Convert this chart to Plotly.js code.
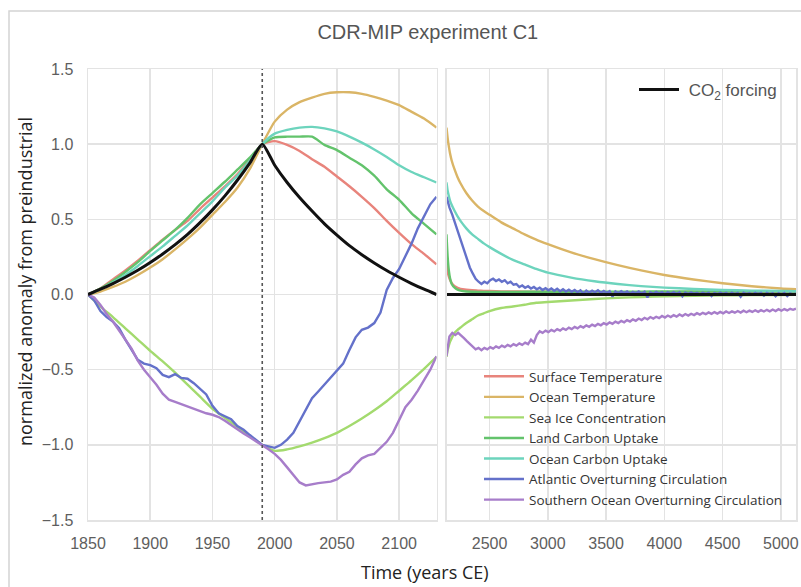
<!DOCTYPE html>
<html>
<head>
<meta charset="utf-8">
<script src="https://cdn.plot.ly/plotly-3.0.1.min.js"></script>
<style>html,body{margin:0;padding:0;background:#fff;}#chart{width:801px;height:587px;}</style>
</head>
<body>
<div id="chart"></div>
<script>
// ---------- DATA ----------
const seriesNames = ["Surface Temperature","Ocean Temperature","Sea Ice Concentration","Land Carbon Uptake","Ocean Carbon Uptake","Atlantic Overturning Circulation","Southern Ocean Overturning Circulation"];
const forcingName = "\u00a0CO<sub>2</sub> forcing";

// left panel, 10-year steps
const yearsL10 = [1850,1860,1870,1880,1890,1900,1910,1920,1930,1940,1950,1960,1970,1980,1990,2000,2010,2020,2030,2040,2050,2060,2070,2080,2090,2100,2110,2120,2130];
const co2L     = [0,0.035,0.073,0.115,0.161,0.213,0.27,0.332,0.40,0.478,0.563,0.656,0.76,0.874,1.0,0.86,0.745,0.645,0.555,0.47,0.395,0.325,0.265,0.21,0.16,0.115,0.073,0.035,0.0];
const surfTL   = [0,0.04,0.10,0.16,0.225,0.295,0.365,0.43,0.49,0.57,0.645,0.72,0.80,0.90,1.0,1.02,0.995,0.955,0.90,0.85,0.785,0.72,0.65,0.575,0.49,0.41,0.335,0.27,0.20];
const oceanTL  = [0,0.02,0.05,0.085,0.13,0.18,0.235,0.30,0.37,0.445,0.53,0.615,0.71,0.835,1.0,1.15,1.23,1.28,1.31,1.335,1.345,1.345,1.335,1.315,1.29,1.26,1.215,1.17,1.11];
const seaIceL  = [0,-0.08,-0.15,-0.225,-0.30,-0.375,-0.445,-0.52,-0.60,-0.68,-0.76,-0.82,-0.88,-0.94,-1.0,-1.04,-1.03,-1.01,-0.985,-0.955,-0.92,-0.875,-0.825,-0.77,-0.71,-0.64,-0.57,-0.495,-0.415];
const landCL   = [0,0.04,0.09,0.15,0.215,0.29,0.36,0.43,0.51,0.60,0.675,0.75,0.83,0.91,1.0,1.045,1.05,1.05,1.05,0.995,0.96,0.91,0.86,0.79,0.70,0.63,0.54,0.47,0.40];
const oceanCL  = [0,0.035,0.08,0.13,0.19,0.255,0.32,0.39,0.46,0.54,0.62,0.71,0.79,0.89,1.0,1.07,1.095,1.11,1.115,1.105,1.085,1.05,1.01,0.965,0.915,0.86,0.815,0.78,0.745];

// left panel, 5-year steps (noisy circulation series)
const yearsL5 = [1850,1855,1860,1865,1870,1875,1880,1885,1890,1895,1900,1905,1910,1915,1920,1925,1930,1935,1940,1945,1950,1955,1960,1965,1970,1975,1980,1985,1990,1995,2000,2005,2010,2015,2020,2025,2030,2035,2040,2045,2050,2055,2060,2065,2070,2075,2080,2085,2090,2095,2100,2105,2110,2115,2120,2125,2130];
const amocL = [0,-0.04,-0.11,-0.15,-0.18,-0.225,-0.30,-0.37,-0.435,-0.46,-0.47,-0.49,-0.535,-0.55,-0.53,-0.555,-0.56,-0.59,-0.625,-0.665,-0.74,-0.79,-0.81,-0.83,-0.875,-0.90,-0.935,-0.97,-1.0,-1.01,-1.02,-1.0,-0.965,-0.92,-0.84,-0.76,-0.69,-0.645,-0.60,-0.55,-0.505,-0.46,-0.37,-0.285,-0.235,-0.22,-0.19,-0.12,0.03,0.11,0.17,0.25,0.34,0.44,0.52,0.60,0.65];
const somocL = [0,-0.02,-0.07,-0.13,-0.18,-0.24,-0.30,-0.36,-0.44,-0.50,-0.55,-0.60,-0.66,-0.70,-0.715,-0.73,-0.745,-0.765,-0.78,-0.79,-0.80,-0.815,-0.84,-0.87,-0.90,-0.925,-0.95,-0.975,-1.0,-1.03,-1.06,-1.10,-1.15,-1.20,-1.25,-1.27,-1.26,-1.255,-1.25,-1.245,-1.23,-1.20,-1.18,-1.13,-1.09,-1.07,-1.06,-1.02,-0.98,-0.92,-0.84,-0.75,-0.70,-0.64,-0.57,-0.50,-0.41];

// right panel, smooth series
const yearsR = [2130,2140,2150,2160,2175,2200,2225,2250,2300,2350,2400,2450,2500,2600,2700,2800,2900,3000,3200,3400,3600,3800,4000,4250,4500,4750,5000,5130];
const co2R    = [0,0,0,0,0,0,0,0,0,0,0,0,0,0,0,0,0,0,0,0,0,0,0,0,0,0,0,0];
const surfTR  = [0.20,0.15,0.12,0.098,0.075,0.055,0.045,0.038,0.032,0.028,0.026,0.024,0.023,0.021,0.02,0.019,0.018,0.018,0.017,0.016,0.015,0.015,0.014,0.014,0.013,0.013,0.013,0.013];
const oceanTR = [1.11,1.04,0.985,0.94,0.89,0.83,0.78,0.74,0.675,0.625,0.585,0.555,0.53,0.48,0.44,0.40,0.365,0.335,0.28,0.235,0.195,0.16,0.13,0.10,0.075,0.055,0.04,0.035];
const seaIceR = [-0.415,-0.37,-0.34,-0.315,-0.29,-0.255,-0.235,-0.22,-0.19,-0.165,-0.14,-0.125,-0.11,-0.09,-0.08,-0.068,-0.055,-0.05,-0.04,-0.03,-0.022,-0.017,-0.012,-0.009,-0.006,-0.004,-0.003,-0.002];
const landCR  = [0.40,0.25,0.16,0.11,0.07,0.045,0.032,0.026,0.02,0.018,0.017,0.017,0.017,0.017,0.017,0.018,0.018,0.018,0.018,0.019,0.019,0.019,0.02,0.02,0.02,0.02,0.02,0.02];
const oceanCR = [0.745,0.69,0.655,0.625,0.595,0.555,0.52,0.49,0.44,0.40,0.37,0.34,0.315,0.27,0.23,0.20,0.17,0.145,0.112,0.088,0.07,0.056,0.046,0.037,0.03,0.026,0.023,0.022];

// right panel, 25-year steps (noisy circulation series)
const yearsR25 = [2130,2155,2180,2205,2230,2255,2280,2305,2330,2355,2380,2405,2430,2455,2480,2505,2530,2555,2580,2605,2630,2655,2680,2705,2730,2755,2780,2805,2830,2855,2880,2905,2930,2955,2980,3005,3030,3055,3080,3105,3130,3155,3180,3205,3230,3255,3280,3305,3330,3355,3380,3405,3430,3455,3480,3505,3530,3555,3580,3605,3630,3655,3680,3705,3730,3755,3780,3805,3830,3855,3880,3905,3930,3955,3980,4005,4030,4055,4080,4105,4130,4155,4180,4205,4230,4255,4280,4305,4330,4355,4380,4405,4430,4455,4480,4505,4530,4555,4580,4605,4630,4655,4680,4705,4730,4755,4780,4805,4830,4855,4880,4905,4930,4955,4980,5005,5030,5055,5080,5105,5130];
const amocR = [0.65,0.58,0.53,0.47,0.41,0.35,0.29,0.23,0.18,0.14,0.105,0.085,0.07,0.085,0.075,0.095,0.105,0.09,0.10,0.085,0.095,0.075,0.085,0.065,0.07,0.05,0.06,0.045,0.055,0.04,0.05,0.035,0.045,0.03,0.042,0.028,0.04,0.025,0.038,0.022,0.035,0.02,0.032,0.018,0.03,0.015,0.028,0.005,0.026,0.012,0.025,0.015,0.028,0.012,0.024,0.01,0.022,-0.015,0.02,0.008,0.022,0.01,0.02,0.005,0.018,0.008,0.02,0.006,0.018,-0.02,0.015,0.005,0.017,0.006,0.016,0.002,0.015,0.005,0.016,0.004,0.014,-0.012,0.013,0.003,0.014,0.004,0.012,0.002,0.013,0.003,0.012,-0.01,0.011,0.002,0.012,0.003,0.011,0.0,0.012,0.002,0.01,-0.015,0.011,0.002,0.01,0.0,0.011,0.002,0.01,-0.008,0.01,0.001,0.009,-0.012,0.009,0.0,0.01,-0.01,0.008,0.0,0.005];
const somocR = [-0.41,-0.28,-0.255,-0.27,-0.255,-0.27,-0.29,-0.31,-0.33,-0.35,-0.365,-0.355,-0.37,-0.355,-0.365,-0.35,-0.36,-0.345,-0.355,-0.34,-0.35,-0.335,-0.345,-0.33,-0.34,-0.325,-0.335,-0.32,-0.33,-0.30,-0.32,-0.27,-0.245,-0.255,-0.24,-0.25,-0.235,-0.245,-0.23,-0.24,-0.225,-0.235,-0.22,-0.23,-0.215,-0.225,-0.21,-0.22,-0.205,-0.215,-0.20,-0.21,-0.195,-0.205,-0.19,-0.20,-0.185,-0.195,-0.18,-0.19,-0.175,-0.185,-0.17,-0.18,-0.165,-0.175,-0.16,-0.17,-0.155,-0.165,-0.15,-0.16,-0.148,-0.157,-0.143,-0.153,-0.14,-0.15,-0.137,-0.147,-0.133,-0.143,-0.13,-0.14,-0.128,-0.137,-0.124,-0.134,-0.122,-0.131,-0.119,-0.129,-0.117,-0.127,-0.116,-0.125,-0.113,-0.123,-0.112,-0.121,-0.11,-0.12,-0.108,-0.118,-0.107,-0.116,-0.105,-0.115,-0.104,-0.113,-0.102,-0.112,-0.10,-0.11,-0.098,-0.108,-0.097,-0.106,-0.095,-0.102,-0.094];

const leftTicks = [1850,1900,1950,2000,2050,2100];
const rightTicks = [2500,3000,3500,4000,4500,5000];
const yTicks = [-1.5,-1.0,-0.5,0.0,0.5,1.0,1.5];

// ---------- STYLE ----------
const colors = ["#e8847c","#dab566","#a3da6e","#63c36c","#6dd4bd","#6471ca","#a77dca"];
const lw = 2.4;
const gridC = "#e3e3e3";

const leftY  = [surfTL, oceanTL, seaIceL, landCL, oceanCL, amocL, somocL];
const leftX  = [yearsL10, yearsL10, yearsL10, yearsL10, yearsL10, yearsL5, yearsL5];
const rightY = [surfTR, oceanTR, seaIceR, landCR, oceanCR, amocR, somocR];
const rightX = [yearsR, yearsR, yearsR, yearsR, yearsR, yearsR25, yearsR25];

const traces = [];
for (let i = 0; i < seriesNames.length; i++) {
  traces.push({x:leftX[i], y:leftY[i], xaxis:'x', yaxis:'y', mode:'lines', name:seriesNames[i],
    line:{color:colors[i], width:lw, shape: i>=5 ? 'linear':'spline', smoothing:0.6}, showlegend:false, hoverinfo:'skip'});
}
for (let i = 0; i < seriesNames.length; i++) {
  traces.push({x:rightX[i], y:rightY[i], xaxis:'x2', yaxis:'y2', mode:'lines', name:seriesNames[i],
    line:{color:colors[i], width:lw, shape: i>=5 ? 'linear':'spline', smoothing:0.6}, showlegend:true, legend:'legend2', hoverinfo:'skip'});
}
traces.push({x:yearsL10, y:co2L, xaxis:'x', yaxis:'y', mode:'lines', name:forcingName,
  line:{color:'#111', width:3, shape:'spline', smoothing:0.6}, showlegend:false, hoverinfo:'skip'});
traces.push({x:yearsR, y:co2R, xaxis:'x2', yaxis:'y2', mode:'lines', name:forcingName,
  line:{color:'#111', width:3}, showlegend:true, legend:'legend', hoverinfo:'skip'});

const tickFont = {family:'"Liberation Sans", Arial, sans-serif', size:16, color:'#5e5e5e'};
const axisCommon = {showgrid:true, gridcolor:gridC, gridwidth:1.5, showline:true, linecolor:gridC, linewidth:1.5, mirror:true, zeroline:false, ticks:'', tickfont:tickFont};

const layout = {
  width:801, height:587,
  margin:{l:88, r:5, t:69, b:67},
  paper_bgcolor:'#ffffff', plot_bgcolor:'#ffffff',
  showlegend:true,
  title:{text:'CDR-MIP experiment C1', font:{family:'"Liberation Sans", Arial, sans-serif', size:20, color:'#555'},
    xref:'paper', x:0.48, xanchor:'center', yref:'container', y:1-32/587, yanchor:'middle'},
  xaxis: Object.assign({}, axisCommon, {domain:[0, 348.5/708], range:[1850,2130], tickvals:leftTicks, ticktext:leftTicks.map(String), anchor:'y', ticklabelstandoff:8}),
  xaxis2: Object.assign({}, axisCommon, {domain:[358.5/708, 1], range:[2130,5130], tickvals:rightTicks, ticktext:rightTicks.map(String), anchor:'y2', ticklabelstandoff:8}),
  yaxis: Object.assign({}, axisCommon, {range:[-1.5,1.5], tickvals:yTicks, tickformat:'.1f', anchor:'x', ticklabelstandoff:10}),
  yaxis2: Object.assign({}, axisCommon, {range:[-1.5,1.5], tickvals:yTicks, showticklabels:false, anchor:'x2', matches:'y'}),
  legend:{x:(634-88)/708, xanchor:'left', y:(520-72)/451, yanchor:'top', bgcolor:'rgba(0,0,0,0)', borderwidth:0,
    font:{family:'"Liberation Sans", Arial, sans-serif', size:17, color:'#555'}, itemwidth:40},
  legend2:{x:(479-88)/708, xanchor:'left', y:(520-361)/451, yanchor:'top', bgcolor:'rgba(0,0,0,0)', borderwidth:0,
    font:{family:'"Open Sans", sans-serif', size:13.5, color:'#333'}, itemwidth:40, tracegroupgap:0},
  shapes:[
    {type:'line', xref:'x', yref:'paper', x0:1990, x1:1990, y0:0, y1:1, line:{color:'#555', width:1.6, dash:'dot'}},
    {type:'rect', xref:'paper', yref:'paper', x0:(9-88)/708, x1:1.05, y0:-0.3, y1:(520-11)/451, line:{color:'#d4d4d4', width:1.5}, fillcolor:'rgba(0,0,0,0)', layer:'below'}
  ],
  annotations:[
    {text:'normalized anomaly from preindustrial', xref:'paper', yref:'paper', x:(25-88)/708, y:(520-282)/451, xanchor:'center', yanchor:'middle', textangle:-90, showarrow:false,
      font:{family:'"Open Sans", sans-serif', size:18, color:'#222'}},
    {text:'Time (years CE)', xref:'paper', yref:'paper', x:(425-88)/708, y:(520-572)/451, xanchor:'center', yanchor:'middle', showarrow:false,
      font:{family:'"Open Sans", sans-serif', size:18, color:'#222'}}
  ]
};

Plotly.newPlot('chart', traces, layout, {displayModeBar:false, staticPlot:true});
</script>
</body>
</html>
